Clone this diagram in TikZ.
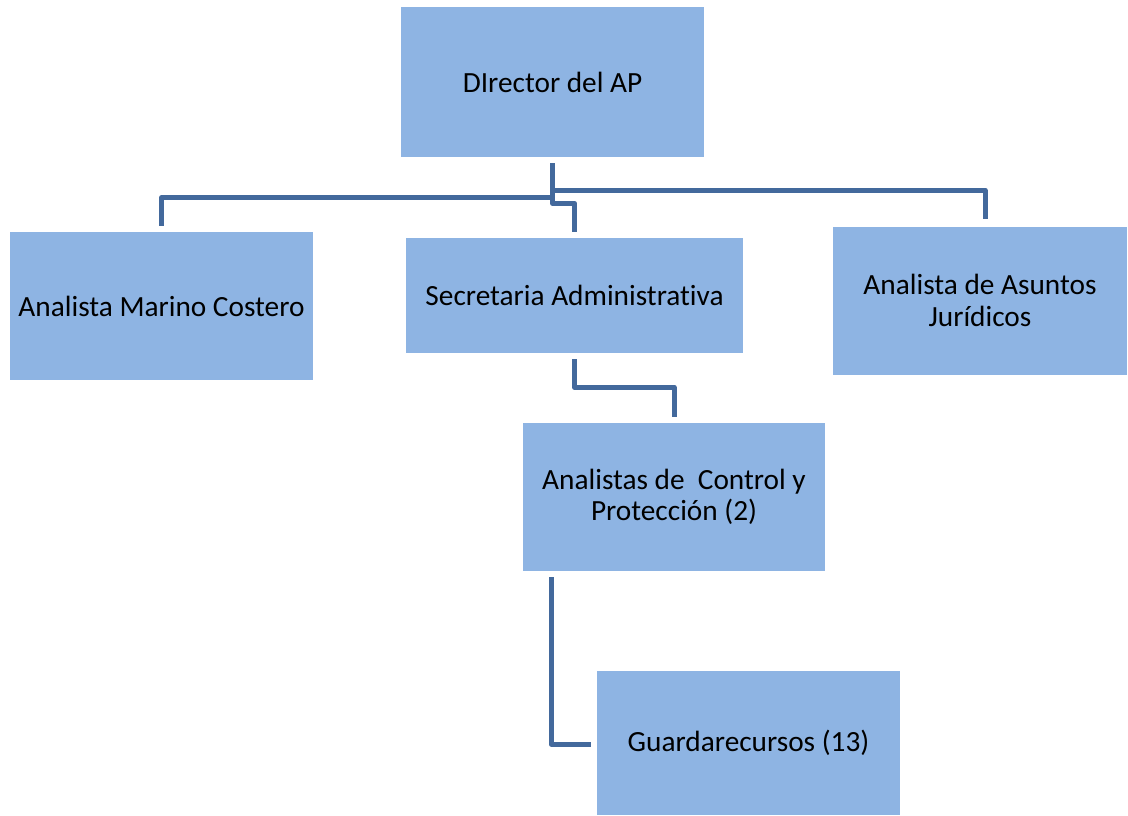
\documentclass[tikz,border=0pt]{standalone}
\usepackage{fontspec}
\setmainfont{Carlito}[Ligatures={NoCommon}]
\usetikzlibrary{calc}
\definecolor{boxblue}{HTML}{8EB4E3}
\definecolor{linkblue}{HTML}{43699C}
\tikzset{
  orgbox/.style={fill=boxblue, draw=none, inner sep=0pt, align=center,
    font=\fontsize{29.3}{31.5}\selectfont},
  conn/.style={draw=linkblue, line width=5pt, line join=round}
}
\begin{document}
\begin{tikzpicture}[x=1pt,y=-1pt]
\useasboundingbox (0,0) rectangle (1128,815);
\node[orgbox, minimum width=303pt, minimum height=150pt] (dir) at (552.5,82) {DIrector del AP};
\node[orgbox, minimum width=303pt, minimum height=148pt] (mar) at (161.5,306) {Analista Marino Costero};
\node[orgbox, minimum width=337pt, minimum height=115pt] (sec) at (574.5,295.5) {Secretaria Administrativa};
\node[orgbox, minimum width=294pt, minimum height=148pt] (jur) at (980,300.5) {Analista de Asuntos\\Jurídicos};
\node[orgbox, minimum width=302pt, minimum height=148pt] (ana) at (674,497) {Analistas de~~Control y\\Protección (2)};
\node[orgbox, minimum width=303pt, minimum height=144pt] (gua) at (748.5,743) {Guardarecursos (13)};

\draw[conn] ($(dir.south)+(0,6)$) -- ++(0,40) -| ($(sec.north)+(0,-6)$);
\draw[conn] ($(dir.south)+(0,40.7)$) -| ($(mar.north)+(0,-6)$);
\draw[conn] ($(dir.south)+(0,6)$) -- ++(0,27) -| ($(jur.north)+(5,-7)$);
\draw[conn] ($(sec.south)+(0,6)$) -- ++(0,28) -| ($(ana.north)+(0,-6)$);
\draw[conn] ($(ana.south)+(-123,6)$) |- ($(gua.west)+(-6,1)$);
\end{tikzpicture}
\end{document}
